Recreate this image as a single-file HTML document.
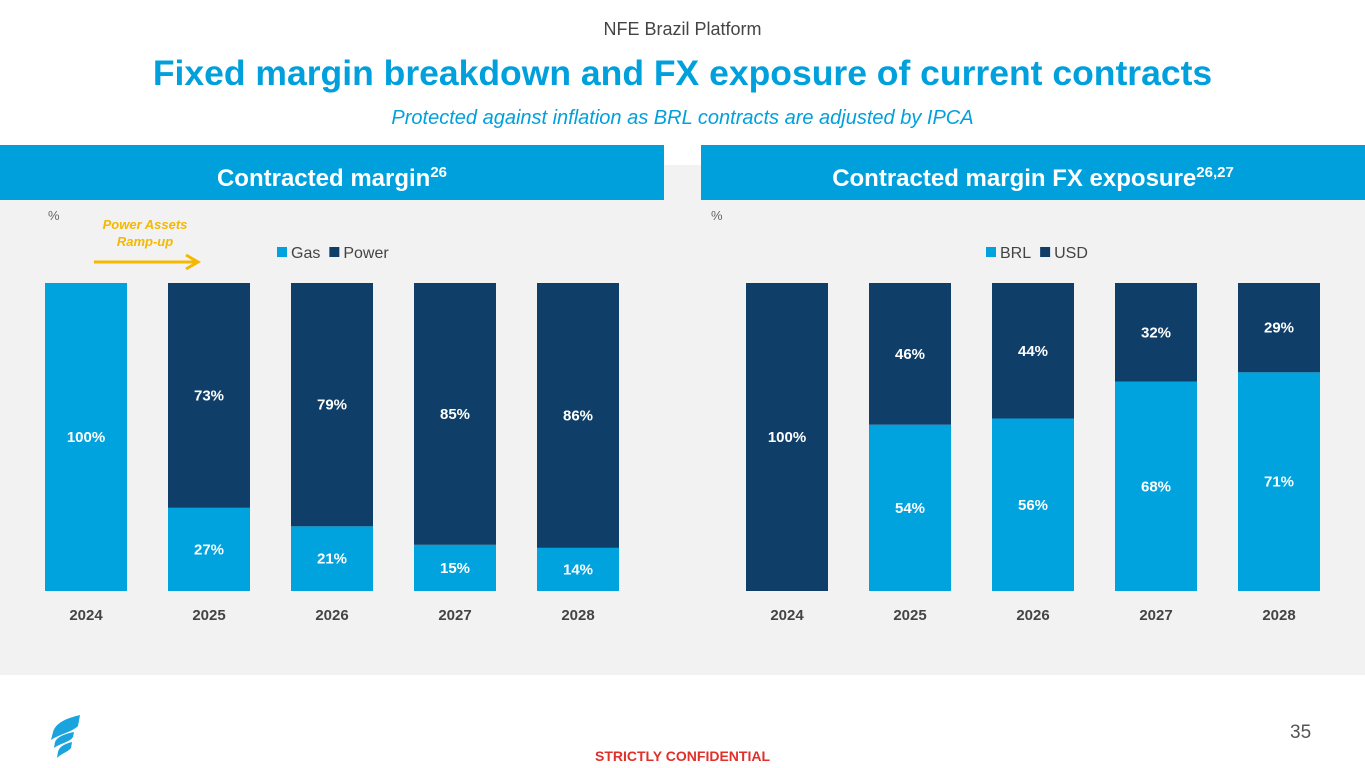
<!DOCTYPE html>
<html><head><meta charset="utf-8">
<style>
body{margin:0;width:1365px;height:768px;position:relative;background:#fff;font-family:"Liberation Sans",sans-serif;overflow:hidden}
.abs{position:absolute}
</style></head><body>
<div class="abs" style="left:0;width:1365px;top:19px;text-align:center;font-size:18px;color:#444">NFE Brazil Platform</div>
<div class="abs" style="left:0;width:1365px;top:53px;text-align:center;font-size:35.5px;font-weight:bold;color:#00a0dc">Fixed margin breakdown and FX exposure of current contracts</div>
<div class="abs" style="left:0;width:1365px;top:107px;text-align:center;font-size:20px;font-style:italic;color:#00a0dc">Protected against inflation as BRL contracts are adjusted by IPCA</div>
<div class="abs" style="left:0;top:165px;width:1365px;height:510px;background:#f2f2f2"></div>
<div class="abs" style="left:0;top:145px;width:664px;height:55px;background:#00a0dc;color:#fff;font-weight:bold;font-size:24px;line-height:55px;text-align:center">Contracted margin<sup style="font-size:15px">26</sup></div>
<div class="abs" style="left:701px;top:145px;width:664px;height:55px;background:#00a0dc;color:#fff;font-weight:bold;font-size:24px;line-height:55px;text-align:center">Contracted margin FX exposure<sup style="font-size:15px">26,27</sup></div>
<div class="abs" style="left:48px;top:208px;font-size:13px;color:#666">%</div>
<div class="abs" style="left:711px;top:208px;font-size:13px;color:#666">%</div>
<div class="abs" style="left:95px;top:216px;width:100px;text-align:center;font-size:13px;font-weight:bold;font-style:italic;color:#f5b800;line-height:17px">Power Assets<br>Ramp-up</div>
<svg class="abs" style="left:90px;top:250px" width="115" height="20"><line x1="4" y1="12" x2="106" y2="12" stroke="#f5b800" stroke-width="3"/><polyline points="96,5 108,12 96,19" fill="none" stroke="#f5b800" stroke-width="3"/></svg>
<svg id="chart" class="abs" style="left:0;top:0" width="1365" height="768"></svg>
<svg class="abs" style="left:48px;top:712px" width="36" height="46"><path d="M32 3 C20 6 8 10 5 20 L3 28 C12 22 24 20 30 14 Z" fill="#1aa3dc"/><path d="M26 20 C16 22 9 25 7 30 L6 36 C13 31 22 30 25 25 Z" fill="#1aa3dc"/><path d="M24 30 C16 32 11 35 10 40 L9 46 C14 41 20 40 23 36 Z" fill="#1aa3dc"/></svg>
<div class="abs" style="left:0;width:1365px;top:748px;text-align:center;font-size:14px;font-weight:bold;color:#e0302a">STRICTLY CONFIDENTIAL</div>
<div class="abs" style="left:1290px;top:722px;font-size:19px;color:#555">35</div>
<script>
const years=["2024","2025","2026","2027","2028"];
const gas=[100,27,21,15,14];
const power=[0,73,79,85,86];
const brl=[0,54,56,68,71];
const usd=[100,46,44,32,29];
const LIGHT="#00a3de",DARK="#0f3f69";
const svg=document.getElementById('chart');
const NS="http://www.w3.org/2000/svg";
const top0=283,bot=591;
function y(v){return bot-(bot-top0)*v/100;}
function mk(tag,attrs){const e=document.createElementNS(NS,tag);for(const k in attrs)e.setAttribute(k,attrs[k]);svg.appendChild(e);return e;}
function chart(x0,lo,hi,names,prefix){
  years.forEach((yr,i)=>{
    const x=x0+i*123;
    const yl=y(lo[i]),yh=y(lo[i]+hi[i]);
    if(lo[i]>0){const r=mk('rect',{x:x,y:yl,width:82,height:bot-yl,fill:LIGHT});
      
      
      const t=mk('text',{x:x+41,y:(yl+bot)/2+5,'text-anchor':'middle','font-size':15,'font-weight':'bold',fill:'#fff'});t.textContent=lo[i]+'%';
      
      }
    if(hi[i]>0){const r=mk('rect',{x:x,y:yh,width:82,height:yl-yh,fill:DARK});
      
      
      const t=mk('text',{x:x+41,y:(yh+yl)/2+5,'text-anchor':'middle','font-size':15,'font-weight':'bold',fill:'#fff'});t.textContent=hi[i]+'%';
      
      }
    const t=mk('text',{x:x+41,y:620,'text-anchor':'middle','font-size':15,'font-weight':'bold',fill:'#444'});t.textContent=yr;
    
    
  });
}
chart(45,gas,power,["Gas","Power"],'margin');
chart(746,brl,usd,["BRL","USD"],'fx');
function legend(x,names){
  let cx=x;
  names.forEach((n,i)=>{
    const r=mk('rect',{x:cx,y:247,width:10,height:10,fill:i?DARK:LIGHT});
    
    
    const t=mk('text',{x:cx+14,y:258,'font-size':16,fill:'#444'});t.textContent=n;
    
    
    cx+=14+t.getComputedTextLength()+9;
  });
}
legend(277,["Gas","Power"]);
legend(986,["BRL","USD"]);
</script>
</body></html>
